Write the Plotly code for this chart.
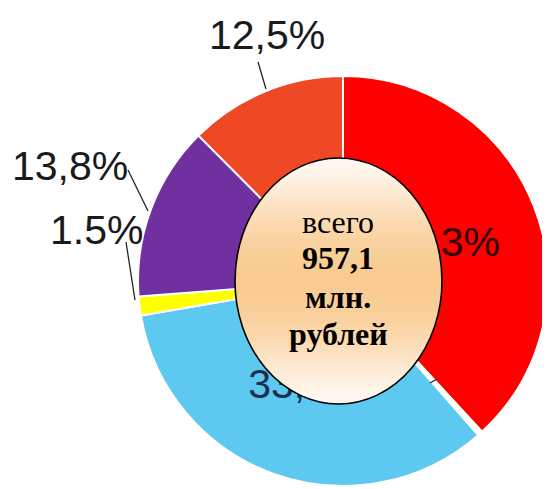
import math
import plotly.graph_objects as go

# ---- data (clockwise from 12 o'clock) ----
categories = ["A", "B", "C", "D", "E", "F"]
values = [38.3, 0.4, 33.9, 1.5, 13.8, 12.5]
labels_text = ["38,3%", "", "33,9%", "1.5%", "13,8%", "12,5%"]
slice_colors = ["#FF0000", "#FFFFFF", "#5DC8F0", "#FFFF00", "#7030A0", "#EE4824"]
center_lines = ["всего", "<b>957,1</b>", "<b>млн.</b>", "<b>рублей</b>"]

W, H = 550, 489
OFF = 8  # page body margin


def px(x):
    return (x - OFF) / W


def py(y):
    return 1 - (y - OFF) / H


# pie geometry (page pixels)
cx, cy, R = 343, 281, 205

inside_text = [labels_text[0], "", labels_text[2], "", "", ""]
inside_colors = ["#2e0303", "#000", "#1c2f52", "#000", "#000", "#000"]

fig = go.Figure()
fig.add_trace(go.Pie(
    labels=categories,
    values=values,
    sort=False,
    direction="clockwise",
    rotation=0,
    marker=dict(colors=slice_colors, line=dict(color="white", width=2)),
    text=inside_text,
    textinfo="text",
    textposition="inside",
    insidetextorientation="horizontal",
    insidetextfont=dict(family="Liberation Sans", size=41, color=inside_colors),
    hoverinfo="skip",
    domain=dict(x=[px(cx - R), px(cx + R)], y=[py(cy + R), py(cy - R)]),
    showlegend=False,
))

shapes = []

# leader lines
leaders = [((258, 62), (266, 89)), ((128, 170), (148, 211)), ((126, 242), (135, 300)),
           ((430, 383), (437, 379))]
for (x0, y0), (x1, y1) in leaders:
    shapes.append(dict(type="line", xref="paper", yref="paper",
                       x0=px(x0), y0=py(y0), x1=px(x1), y1=py(y1),
                       line=dict(color="#222", width=1.3), layer="above"))

# ellipse with vertical gradient
ecx, ecy, erx, ery = 338.5, 281, 103.5, 123
top_c = (255, 249, 243)
mid_c = (249, 203, 145)
N = 40


def hw(y):
    v = 1 - ((y - ecy) / ery) ** 2
    return erx * math.sqrt(max(v, 0))


for i in range(N):
    ya = ecy - ery + 2 * ery * i / N
    yb = min(ecy - ery + 2 * ery * (i + 1) / N + 0.8, ecy + ery)
    t = (i + 0.5) / N
    f = math.sin(math.pi * t) ** 1.3
    col = tuple(int(round(top_c[k] + (mid_c[k] - top_c[k]) * f)) for k in range(3))
    ys = [ya + (yb - ya) * j / 6 for j in range(7)]
    pts = [(ecx - hw(y), y) for y in ys] + [(ecx + hw(y), y) for y in reversed(ys)]
    path = "M " + " L ".join(f"{px(x):.5f},{py(y):.5f}" for x, y in pts) + " Z"
    shapes.append(dict(type="path", xref="paper", yref="paper", path=path,
                       fillcolor=f"rgb{col}", line=dict(width=0), layer="above"))

shapes.append(dict(type="circle", xref="paper", yref="paper",
                   x0=px(ecx - erx), x1=px(ecx + erx), y0=py(ecy + ery), y1=py(ecy - ery),
                   line=dict(color="black", width=1.6), layer="above"))

annotations = []
outside = [(labels_text[5], 267, 35), (labels_text[4], 70, 166), (labels_text[3], 96, 230)]
for txt, x, y in outside:
    annotations.append(dict(text=txt, x=px(x), y=py(y), xref="paper", yref="paper",
                            xanchor="center", yanchor="middle", showarrow=False,
                            font=dict(family="Liberation Sans", size=41, color="#1a1a1a")))

center_y = [221.5, 257.5, 296.5, 333.5]
for txt, y in zip(center_lines, center_y):
    annotations.append(dict(text=txt, x=px(338), y=py(y), xref="paper", yref="paper",
                            xanchor="center", yanchor="middle", showarrow=False,
                            font=dict(family="Liberation Serif", size=32, color="black")))

fig.update_layout(
    width=W, height=H,
    margin=dict(l=0, r=0, t=0, b=0),
    paper_bgcolor="white", plot_bgcolor="white",
    shapes=shapes, annotations=annotations,
    showlegend=False,
)

fig.write_html("out.html")
